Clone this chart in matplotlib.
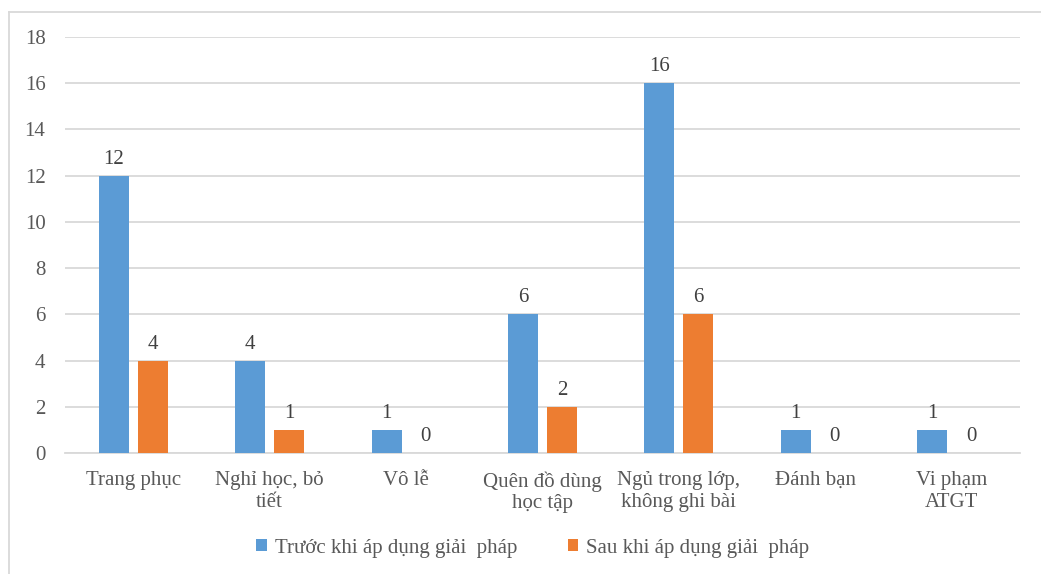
import matplotlib
matplotlib.use("Agg")
import matplotlib.pyplot as plt
import numpy as np
from matplotlib.lines import Line2D

categories = ["Trang phục", "Nghỉ học, bỏ\ntiết", "Vô lễ", "Quên đồ dùng\nhọc tập",
              "Ngủ trong lớp,\nkhông ghi bài", "Đánh bạn", "Vi phạm\nATGT"]
before = [12, 4, 1, 6, 16, 1, 1]
after = [4, 1, 0, 2, 6, 0, 0]
series_names = ["Trước khi áp dụng giải  pháp", "Sau khi áp dụng giải  pháp"]
yticks = [0, 2, 4, 6, 8, 10, 12, 14, 16, 18]

plt.rcParams['font.family'] = ['Liberation Serif', 'DejaVu Serif']
FS = 15

fig = plt.figure(figsize=(10.41, 5.74), dpi=100)
ax = fig.add_axes([0.0624, 0.2108, 0.9174, 0.7247])

x = np.arange(len(categories))
w = 0.22
off = 0.143
c_blue = "#5B9BD5"
c_orange = "#ED7D31"
b1 = ax.bar(x - off, before, w, color=c_blue, zorder=3, label=series_names[0])
b2 = ax.bar(x + off, after, w, color=c_orange, zorder=3, label=series_names[1])

for bars, vals in ((b1, before), (b2, after)):
    for r, v in zip(bars, vals):
        ax.annotate(str(v), (r.get_x() + r.get_width() / 2, v), xytext=(0, 5),
                    textcoords="offset points", ha="center", va="bottom",
                    fontsize=FS, color="#404040")

ax.set_xlim(-0.5, len(categories) - 0.5)
ax.set_ylim(0, 18)
ax.set_yticks(yticks)
ax.set_xticks(x)
ax.set_xticklabels(categories, fontsize=FS, color="#595959", linespacing=1.2)
ax.tick_params(axis='y', length=0, pad=14, labelsize=FS, labelcolor="#595959")
ax.tick_params(axis='x', length=0, pad=13)
ax.yaxis.grid(True, color="#D9D9D9", linewidth=1.3, zorder=0)
for s in ("top", "right", "left"):
    ax.spines[s].set_visible(False)
ax.spines["bottom"].set_color("#D9D9D9")
ax.spines["bottom"].set_linewidth(1.3)

leg = fig.legend(handles=[b1, b2], loc="center", bbox_to_anchor=(0.512, 0.045), ncol=2,
                 frameon=False, fontsize=FS, handlelength=0.5, handleheight=0.5,
                 handletextpad=0.4, columnspacing=2.4)
for t in leg.get_texts():
    t.set_color("#595959")

# outer frame (top and left visible)
fig.add_artist(Line2D([8.5/1041, 8.5/1041], [0, 1 - 11.5/574], transform=fig.transFigure,
                      color="#D9D9D9", linewidth=1.3))
fig.add_artist(Line2D([8.5/1041, 1], [1 - 11.5/574, 1 - 11.5/574], transform=fig.transFigure,
                      color="#D9D9D9", linewidth=1.3))

fig.savefig("out.png", dpi=100)
